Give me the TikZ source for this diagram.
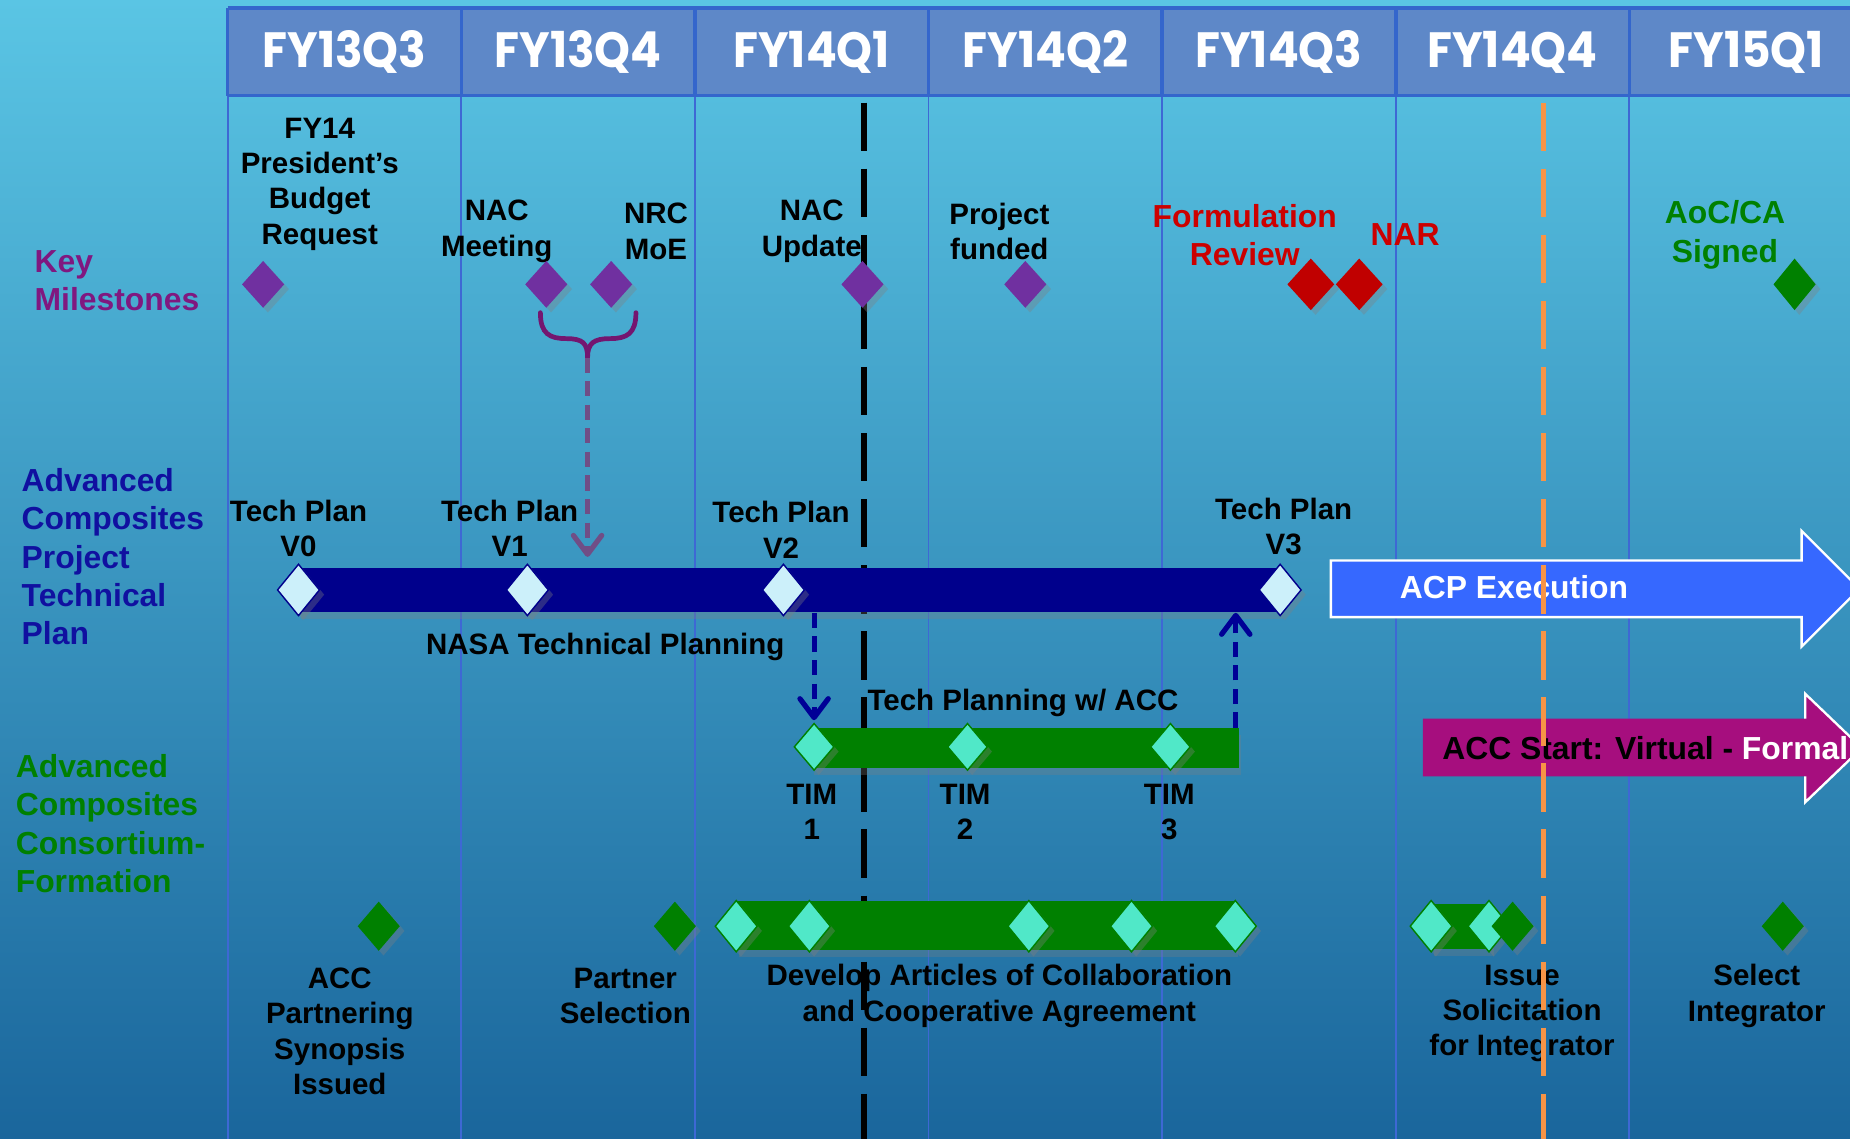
\documentclass[tikz,border=0pt]{standalone}
\usepackage{fontspec}
\setmainfont{Liberation Sans}
\newfontfamily\qtrfont[FakeStretch=0.92]{Poppins}
\usetikzlibrary{shapes.geometric,shadows,arrows.meta}

\definecolor{bgtop}{RGB}{90,197,228}
\definecolor{bgmid}{RGB}{60,158,203}
\definecolor{bgbot}{RGB}{26,102,156}
\definecolor{hdrfill}{RGB}{94,136,200}
\definecolor{hdrline}{RGB}{52,102,204}
\definecolor{gridcol}{RGB}{62,104,212}
\definecolor{msPurple}{RGB}{112,48,160}
\definecolor{lblPurple}{RGB}{128,24,128}
\definecolor{msRed}{RGB}{192,0,0}
\definecolor{txtRed}{RGB}{204,0,0}
\definecolor{msGreen}{RGB}{0,128,0}
\definecolor{navy}{RGB}{0,0,140}
\definecolor{lblNavy}{RGB}{16,16,160}
\definecolor{paleCyan}{RGB}{204,240,250}
\definecolor{mint}{RGB}{80,232,200}
\definecolor{acpBlue}{RGB}{54,104,255}
\definecolor{accMagenta}{RGB}{166,14,126}
\definecolor{dashOrange}{RGB}{247,148,70}
\definecolor{braceCol}{RGB}{116,22,112}
\definecolor{arrowMauve}{RGB}{112,78,134}
\definecolor{arrowNavy}{RGB}{0,0,150}

\newcommand\txtBody{\fontsize{12.5}{15}\selectfont\bfseries}
\newcommand\txtHead{\fontsize{13.5}{16.25}\selectfont\bfseries}
\newcommand\txtQtr{\qtrfont\fontsize{21}{25}\selectfont\bfseries}

\tikzset{
  shadowed/.style={drop shadow={shadow xshift=2pt,shadow yshift=-2pt,opacity=0.35}},
  ms/.style={diamond,inner sep=0pt,shadowed},
  msPurpleD/.style={ms,fill=msPurple,minimum width=18pt,minimum height=20pt},
  msRedD/.style={ms,fill=msRed,minimum width=20pt,minimum height=22pt},
  msGreenD/.style={ms,fill=msGreen,minimum width=18pt,minimum height=21pt},
  planD/.style={ms,fill=paleCyan,draw=navy,line width=0.6pt,minimum width=18pt,minimum height=22pt},
  timD/.style={ms,fill=mint,draw=msGreen,line width=0.6pt,minimum width=17pt,minimum height=20pt},
  devD/.style={ms,fill=mint,draw=msGreen,line width=0.6pt,minimum width=18pt,minimum height=22pt},
  bar/.style={rectangle,inner sep=0pt,drop shadow={shadow xshift=1pt,shadow yshift=-3pt,opacity=0.3}},
  qtr/.style={text=white,font=\txtQtr,anchor=base,inner sep=0pt},
  lbl/.style={text=black,font=\txtBody,align=center,inner sep=0pt},
  rowlbl/.style={font=\txtHead,align=left,anchor=west,inner sep=0pt},
  hlbl/.style={font=\txtHead,align=center,inner sep=0pt},
  datedash/.style={line width=2.5pt,dash pattern=on 20.5pt off 7.5pt},
  flow/.style={line width=2.2pt,dash pattern=on 6.4pt off 3.6pt,
    -{Straight Barb[round,length=8pt,width=12pt]}},
}

\begin{document}
\begin{tikzpicture}[x=0.5pt,y=-0.5pt]
  % canvas and background
  \useasboundingbox (0,0) rectangle (1568,965);
  \clip (0,0) rectangle (1568,965);
  \shade[top color=bgtop,middle color=bgmid,bottom color=bgbot] (0,0) rectangle (1568,965);

  % quarter header band and column grid
  \fill[hdrfill] (193,7) rectangle (1600,81);
  \foreach \gx in {193,391,589,787,985,1183,1381,1579} {
    \draw[gridcol,line width=0.8pt] (\gx,81) -- (\gx,965);
    \draw[hdrline,line width=1.5pt] (\gx,7) -- (\gx,81);
  }
  \draw[hdrline,line width=1.5pt] (193,7) -- (1600,7) (193,81) -- (1600,81);

  \node[qtr] (q1) at (292,57) {FY13Q3};
  \node[qtr] (q2) at (490,57) {FY13Q4};
  \node[qtr] (q3) at (688,57) {FY14Q1};
  \node[qtr] (q4) at (886,57) {FY14Q2};
  \node[qtr] (q5) at (1084,57) {FY14Q3};
  \node[qtr] (q6) at (1282,57) {FY14Q4};
  \node[qtr] (q7) at (1480,57) {FY15Q1};

  % row titles
  \node[rowlbl,text=lblPurple] (rowKey) at (29,238) {Key\\Milestones};
  \node[rowlbl,text=lblNavy] (rowACP) at (18,472) {Advanced\\Composites\\Project\\Technical\\Plan};
  \node[rowlbl,text=msGreen] (rowACC) at (13,698) {Advanced\\Composites\\Consortium-\\Formation};

  % milestone labels
  \node[lbl] (tPBR) at (271,156) {FY14\\President’s\\Budget\\Request};
  \node[lbl] (tNACm) at (421,196) {NAC\\Meeting};
  \node[lbl] (tNRC) at (556,196) {NRC\\MoE};
  \node[lbl] (tNACu) at (688,196) {NAC\\Update};
  \node[lbl] (tFund) at (847,196) {Project\\funded};
  \node[hlbl,text=txtRed] (tForm) at (1055,199) {Formulation\\Review};
  \node[hlbl,text=txtRed] (tNAR) at (1191,199) {NAR};
  \node[hlbl,text=msGreen] (tAoC) at (1462,199) {AoC/CA\\Signed};

  % row labels
  \node[lbl] (tV0) at (253,448) {Tech Plan\\V0};
  \node[lbl] (tV1) at (432,448) {Tech Plan\\V1};
  \node[lbl] (tV2) at (662,449) {Tech Plan\\V2};
  \node[lbl] (tV3) at (1088,446) {Tech Plan\\V3};
  \node[lbl] (tNASA) at (513,548) {NASA Technical Planning};
  \node[lbl] (tTPACC) at (867,596) {Tech Planning w/ ACC};
  \node[lbl] (tTIM1) at (688,688) {TIM\\1};
  \node[lbl] (tTIM2) at (818,688) {TIM\\2};
  \node[lbl] (tTIM3) at (991,688) {TIM\\3};
  \node[lbl] (tACC) at (288,874) {ACC\\Partnering\\Synopsis\\Issued};
  \node[lbl] (tPart) at (530,844) {Partner\\Selection};
  \node[lbl] (tDev) at (847,844) {Develop Articles of Collaboration\\and Cooperative Agreement};
  \node[lbl] (tIss) at (1290,859) {Issue\\Solicitation\\for Integrator};
  \node[lbl] (tSel) at (1489,844) {Select\\Integrator};

  % current-date line (runs beneath the bars)
  \draw[datedash,black] (732,87) -- (732,965);

  % activity bars
  \node[bar,fill=navy,minimum width=416pt,minimum height=19pt] (techbar) at (669,500) {};
  \node[bar,fill=msGreen,minimum width=181pt,minimum height=17pt] (accbar) at (869,634) {};
  \node[bar,fill=msGreen,minimum width=211.5pt,minimum height=20.5pt] (devbar) at (835.5,784.5) {};
  \node[bar,fill=msGreen,minimum width=25.5pt,minimum height=19pt] (issbar) at (1238.5,785) {};

  % execution phases
  \fill[acpBlue,draw=white,line width=1pt]
    (1128,475) -- (1527,475) -- (1527,450) -- (1576,499) -- (1527,548) -- (1527,523) -- (1128,523) -- cycle;
  \node[font=\txtHead,text=white,anchor=west,inner sep=0pt] (tACP) at (1186,498) {ACP Execution};

  \fill[accMagenta] (1206,609) -- (1530,609) -- (1530,588) -- (1578,634) -- (1530,680) -- (1530,658) -- (1206,658) -- cycle;
  \draw[white,line width=1pt] (1530,609) -- (1530,588) -- (1578,634) -- (1530,680) -- (1530,658);
  \node[font=\txtHead,text=black,anchor=west,inner sep=0pt] (tACCS) at (1222,634) {ACC Start: Virtual - \textcolor{white}{Formal}};

  % milestone diamonds
  \node[msPurpleD] (dPBR) at (223,241) {};
  \node[msPurpleD] (dNACm) at (463,241) {};
  \node[msPurpleD] (dNRC) at (518,241) {};
  \node[msPurpleD] (dNACu) at (731,241) {};
  \node[msPurpleD] (dFund) at (869,241) {};
  \node[msRedD] (dForm) at (1111,241) {};
  \node[msRedD] (dNAR) at (1152,241) {};
  \node[msGreenD,minimum height=22pt] (dAoC) at (1521,241) {};

  \node[planD] (v0) at (253,500) {};
  \node[planD] (v1) at (447,500) {};
  \node[planD] (v2) at (664,500) {};
  \node[planD] (v3) at (1085,500) {};

  \node[timD] (tim1) at (690,633) {};
  \node[timD] (tim2) at (820,633) {};
  \node[timD] (tim3) at (992,633) {};

  \node[msGreenD] (bACC) at (321,785) {};
  \node[msGreenD] (bPart) at (572,785) {};
  \node[devD] (c1) at (624,785) {};
  \node[devD] (c2) at (686,785) {};
  \node[devD] (c3) at (872,785) {};
  \node[devD] (c4) at (959,785) {};
  \node[devD] (c5) at (1047,785) {};
  \node[devD] (c6) at (1213,785) {};
  \node[devD] (c7) at (1262,785) {};
  \node[msGreenD] (bIss) at (1282,785) {};
  \node[msGreenD] (bSel) at (1511,785) {};

  % brace grouping the NAC meeting and NRC MoE
  \coordinate (braceTip) at (498,303);
  \draw[braceCol,line width=2pt,line cap=round]
    (458,265) .. controls (458,283) and (466,287) .. (480,287)
              .. controls (494,287) and (498,291) .. (braceTip);
  \draw[braceCol,line width=2pt,line cap=round]
    (539,265) .. controls (539,283) and (531,287) .. (517,287)
              .. controls (503,287) and (498,291) .. (braceTip);
  \coordinate (v1in) at (498,472);
  \draw[flow,arrowMauve] (braceTip) -- (v1in);

  % hand-offs between the plan and the consortium
  \draw[flow,arrowNavy] (tim1.north |- techbar.south) -- ([yshift=1pt]tim1.north);
  \coordinate (accUp) at ([xshift=-1.5pt]accbar.north east);
  \draw[flow,arrowNavy] (accUp) -- (accUp |- techbar.south);

  % fiscal-year boundary line
  \draw[datedash,dashOrange,line width=2pt] (1308,87) -- (1308,965);
\end{tikzpicture}
\end{document}
